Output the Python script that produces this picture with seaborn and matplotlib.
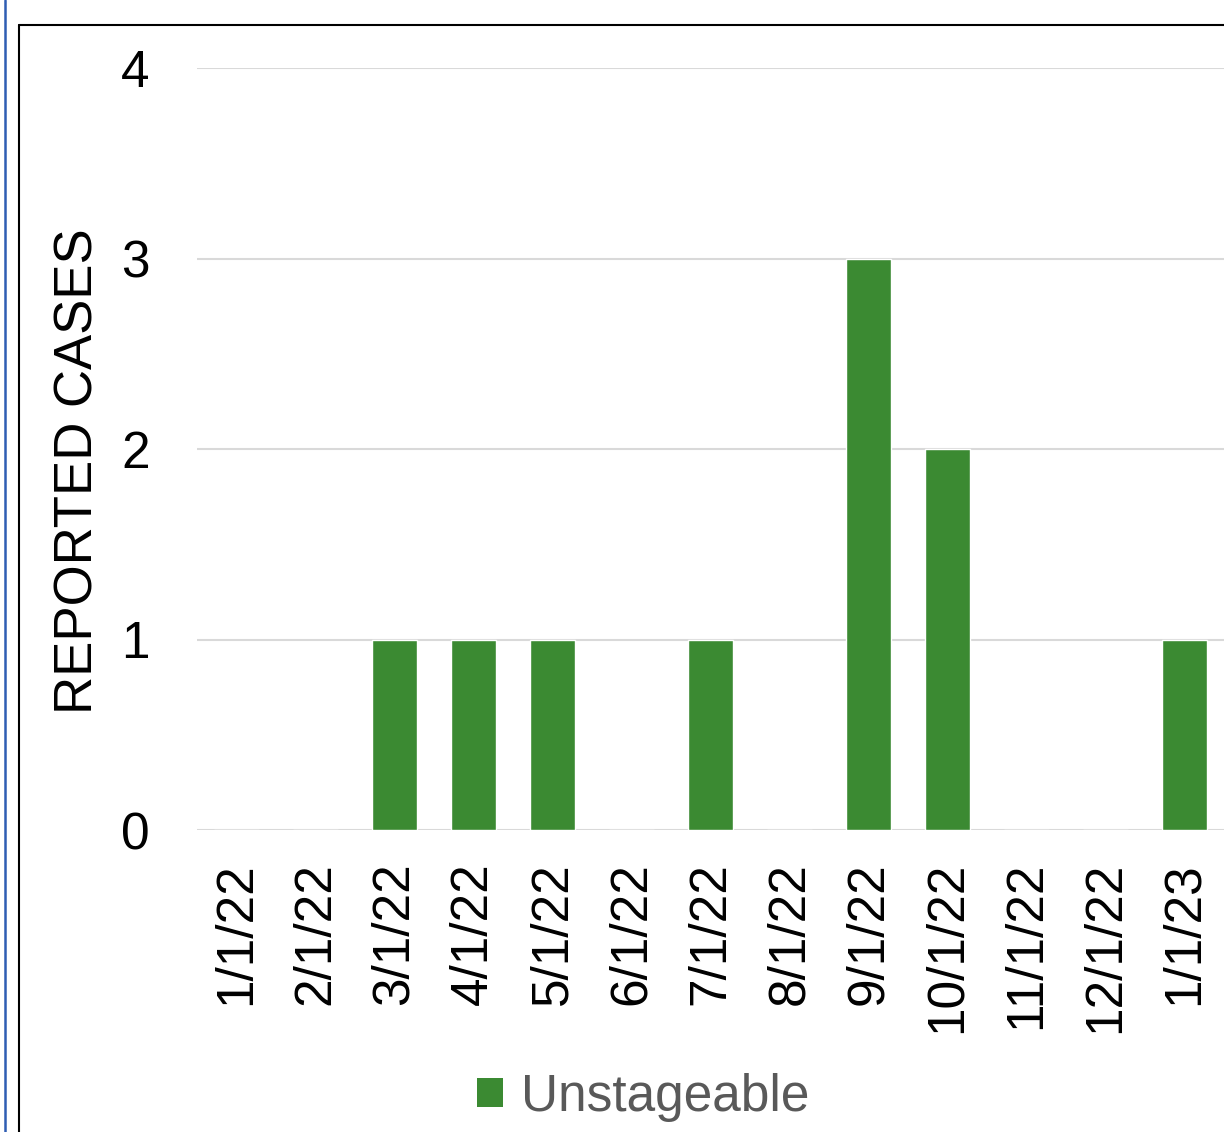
import matplotlib
matplotlib.use("Agg")
import matplotlib.pyplot as plt
import seaborn as sns
import pandas as pd
from matplotlib.lines import Line2D
from matplotlib.patches import Patch

months = ["1/1/22", "2/1/22", "3/1/22", "4/1/22", "5/1/22", "6/1/22", "7/1/22",
          "8/1/22", "9/1/22", "10/1/22", "11/1/22", "12/1/22", "1/1/23"]
unstageable = [0, 0, 1, 1, 1, 0, 1, 0, 3, 2, 0, 0, 1]
y_ticks = [0, 1, 2, 3, 4]
series_name = "Unstageable"
y_label = "REPORTED CASES"

sns.set_theme(style="white")
plt.rcParams['font.family'] = ['Liberation Sans', 'DejaVu Sans']

green = "#3B8A32"
df = pd.DataFrame({"month": months, "cases": unstageable})

fig = plt.figure(figsize=(12.24, 11.32), dpi=100)
ax = fig.add_axes([197/1224, 1 - 830/1132, 1 - 197/1224, (830 - 68)/1132])

sns.barplot(data=df, x="month", y="cases", color=green, width=0.57,
            saturation=1, ax=ax, order=months)

ax.set_ylim(0, 4)
ax.set_yticks(y_ticks)
ax.set_yticklabels([str(t) for t in y_ticks], fontsize=37, color="black")
ax.set_xticks(range(len(months)))
ax.set_xticklabels(months, rotation=90, fontsize=37, color="black")
ax.tick_params(axis="x", length=0, pad=23)
ax.tick_params(axis="y", length=0, pad=34)
ax.set_xlim(-0.5, len(months) - 0.5)
ax.set_xlabel("")
ax.set_ylabel(y_label, fontsize=38, color="black")
ax.yaxis.set_label_coords((104 - 197) / 1027, 1 - (471 - 68) / 762)
ax.yaxis.grid(True, color="#D9D9D9", linewidth=1.5)
ax.set_axisbelow(True)
for s in ax.spines.values():
    s.set_visible(False)

handles = [Patch(facecolor=green, edgecolor="none", label=series_name)]
fig.legend(handles=handles, loc="center", bbox_to_anchor=(643/1224, 1 - 1097/1132),
           frameon=False, fontsize=37, labelcolor="#595959",
           handlelength=0.5, handleheight=0.5, handletextpad=0.35)

# outer frame lines (chart border)
fig.add_artist(Line2D([4.5/1224, 4.5/1224], [0, 1], color="#2F5DB3", linewidth=1.8,
                      transform=fig.transFigure))
fig.add_artist(Line2D([18.5/1224, 18.5/1224], [0, 1 - 25/1132], color="black", linewidth=1.5,
                      transform=fig.transFigure))
fig.add_artist(Line2D([18.5/1224, 1], [1 - 25/1132, 1 - 25/1132], color="black", linewidth=1.5,
                      transform=fig.transFigure))

fig.savefig("out.png", dpi=100, facecolor="white")
